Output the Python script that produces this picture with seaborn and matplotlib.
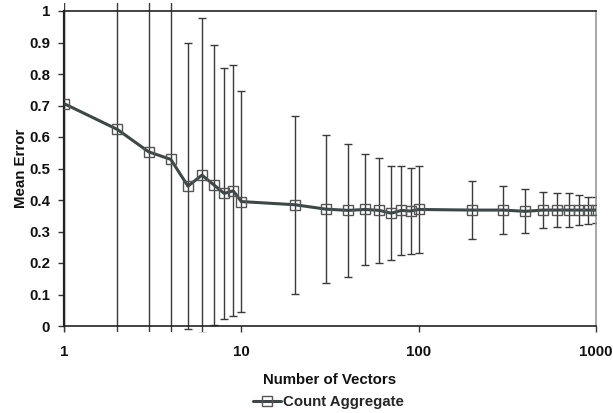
import numpy as np
import pandas as pd
import matplotlib
matplotlib.use("Agg")
import matplotlib.pyplot as plt
import seaborn as sns
from matplotlib.transforms import Bbox, TransformedBbox
from matplotlib.lines import Line2D

# ---- data ----
num_vectors = [1, 2, 3, 4, 5, 6, 7, 8, 9, 10,
               20, 30, 40, 50, 60, 70, 80, 90, 100,
               200, 300, 400, 500, 600, 700, 800, 900, 1000]
mean_error = [0.706, 0.624, 0.553, 0.529, 0.444, 0.479, 0.448, 0.421, 0.429, 0.395,
              0.385, 0.371, 0.367, 0.370, 0.367, 0.358, 0.367, 0.365, 0.370,
              0.368, 0.368, 0.364, 0.368, 0.368, 0.368, 0.368, 0.368, 0.368]
error_size = [0.90, 0.90, 0.90, 0.90, 0.455, 0.50, 0.445, 0.398, 0.398, 0.352,
              0.282, 0.234, 0.21, 0.176, 0.167, 0.15, 0.142, 0.136, 0.137,
              0.093, 0.075, 0.07, 0.058, 0.053, 0.053, 0.047, 0.043, 0.04]
x_ticks = [1, 10, 100, 1000]
x_tick_labels = ["1", "10", "100", "1000"]
y_ticks = [0, 0.1, 0.2, 0.3, 0.4, 0.5, 0.6, 0.7, 0.8, 0.9, 1]
y_tick_labels = ["0", "0.1", "0.2", "0.3", "0.4", "0.5", "0.6", "0.7", "0.8", "0.9", "1"]
series_name = "Count Aggregate"

df = pd.DataFrame({"Number of Vectors": num_vectors, "Mean Error": mean_error, "err": error_size})

sns.set_theme(style="white")
plt.rcParams["font.family"] = ["Liberation Sans", "DejaVu Sans"]
plt.rcParams["font.weight"] = "bold"
plt.rcParams["xtick.bottom"] = True
plt.rcParams["ytick.left"] = True
plt.rcParams["xtick.major.size"] = 4
plt.rcParams["ytick.major.size"] = 4
plt.rcParams["xtick.major.width"] = 1
plt.rcParams["ytick.major.width"] = 1
plt.rcParams["xtick.direction"] = "out"
plt.rcParams["ytick.direction"] = "out"

W, H = 613, 413
fig = plt.figure(figsize=(W / 100, H / 100), dpi=100)
L, R, T, B = 64, 596, 11, 326
ax = fig.add_axes([L / W, 1 - B / H, (R - L) / W, (B - T) / H])

line_color = "#3c4848"
ebar_color = "#3a3a3a"
fs = 10.8

# error bars
eb = ax.errorbar(df["Number of Vectors"], df["Mean Error"], yerr=df["err"], fmt="none",
                 ecolor=ebar_color, elinewidth=1.0, capsize=3, capthick=1.0, zorder=2)
clip = TransformedBbox(Bbox([[0, -0.02], [1.0, 1.025]]), ax.transAxes)
for art in list(eb.lines[1]) + list(eb.lines[2]):
    art.set_clip_box(clip)

sns.lineplot(data=df, x="Number of Vectors", y="Mean Error", ax=ax, color=line_color,
             linewidth=2.2, marker="s", markersize=7, markerfacecolor="none",
             markeredgecolor="#555555", markeredgewidth=1.0, zorder=3)

ax.set_xscale("log")
ax.set_xlim(1, 1000)
ax.set_ylim(0, 1)
ax.set_xticks(x_ticks)
ax.set_xticklabels(x_tick_labels)
ax.xaxis.set_minor_locator(matplotlib.ticker.NullLocator())
ax.set_yticks(y_ticks)
ax.set_yticklabels(y_tick_labels)
ax.tick_params(axis="both", which="major", direction="out", length=4, width=1,
               color="#333333", labelsize=fs, labelcolor="#111111")
ax.tick_params(axis="x", pad=10)
ax.tick_params(axis="y", pad=6)
for lbl in ax.get_xticklabels() + ax.get_yticklabels():
    lbl.set_fontweight("bold")

for side in ["left", "bottom", "top"]:
    ax.spines[side].set_color("#222222")
    ax.spines[side].set_linewidth(1.2)
ax.spines["right"].set_color("#999999")
ax.spines["right"].set_linewidth(1.2)
ax.spines["left"].set_linewidth(1.6)

ax.set_xlabel("Number of Vectors", fontsize=fs, fontweight="bold", color="#111111", labelpad=10)
ax.set_ylabel("Mean Error", fontsize=fs, fontweight="bold", color="#111111", labelpad=1)
ax.grid(False)

handle = Line2D([], [], color=line_color, linewidth=2.2, marker="s", markersize=7,
                markerfacecolor="none", markeredgecolor="#555555")
fig.legend([handle], [series_name], loc="center", bbox_to_anchor=(328 / W, 1 - 402 / H),
           frameon=False, handlelength=1.9, handletextpad=0.1,
           prop={"size": fs, "weight": "bold"})

fig.savefig("out.png", dpi=100)
